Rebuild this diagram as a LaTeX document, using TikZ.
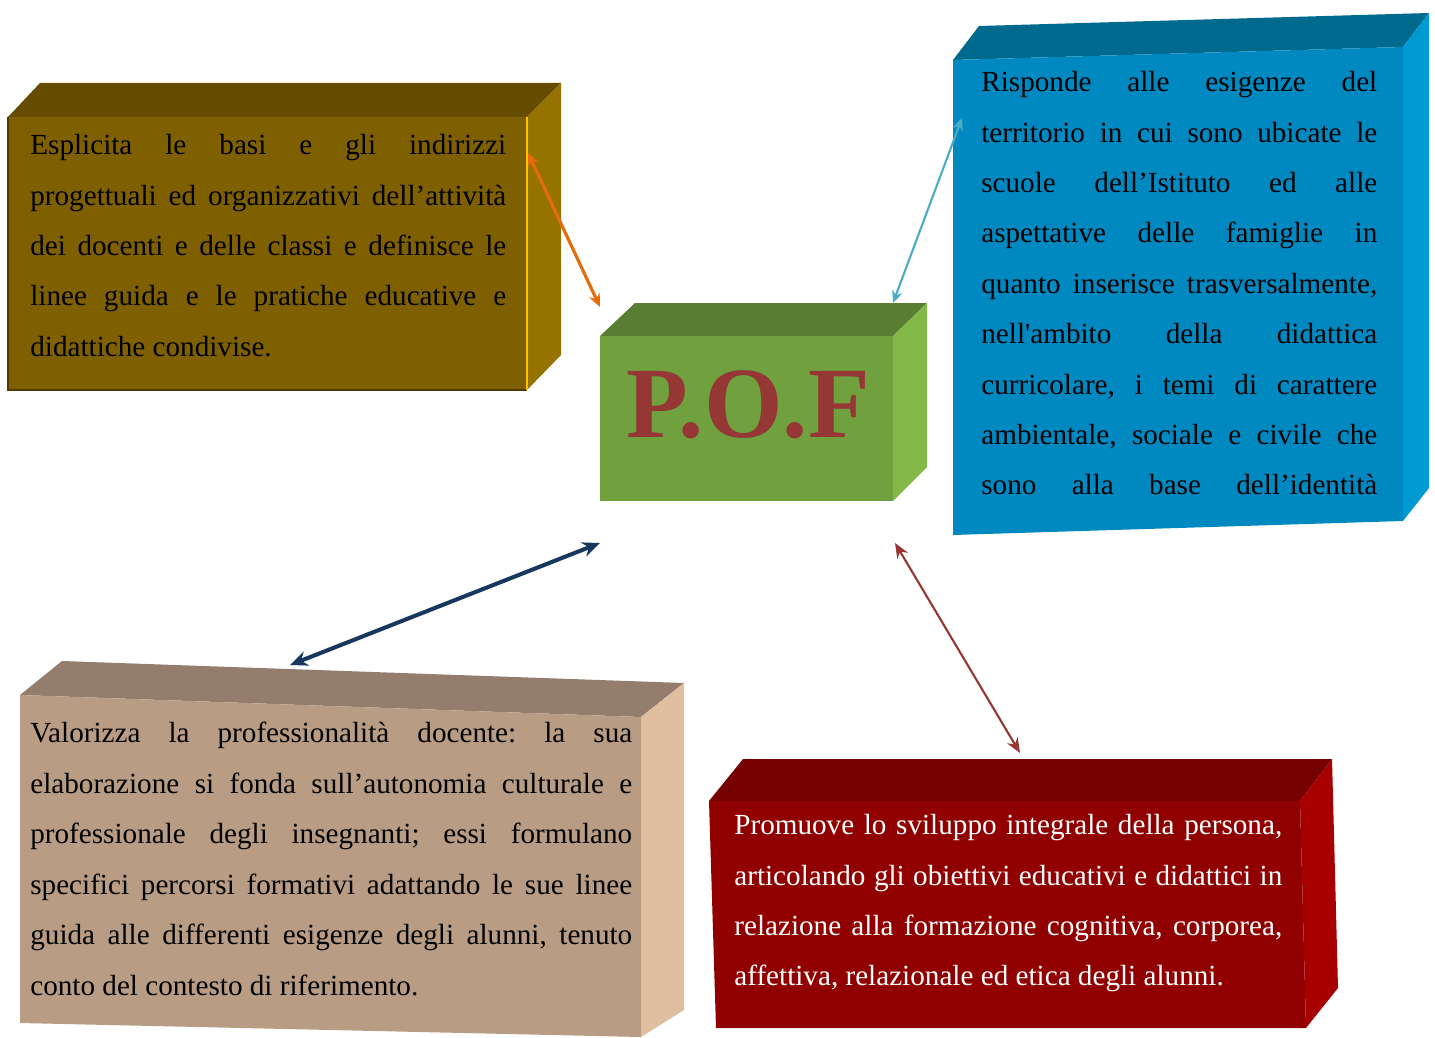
\documentclass[tikz,border=0pt]{standalone}
\usepackage{fontspec}
\setmainfont{Liberation Serif}
\usetikzlibrary{arrows.meta}
\definecolor{oliveFront}{HTML}{7F6000}
\definecolor{oliveTop}{HTML}{654C00}
\definecolor{oliveSide}{HTML}{967200}
\definecolor{oliveDark}{HTML}{4F3B00}
\definecolor{oliveEdge}{HTML}{FFC000}
\definecolor{greenFront}{HTML}{71A03F}
\definecolor{greenTop}{HTML}{5A7E31}
\definecolor{greenSide}{HTML}{81B848}
\definecolor{blueFront}{HTML}{0089C1}
\definecolor{blueTop}{HTML}{006A8E}
\definecolor{blueSide}{HTML}{009AD3}
\definecolor{tanFront}{HTML}{B89C83}
\definecolor{tanTop}{HTML}{947D6C}
\definecolor{tanSide}{HTML}{E0BEA0}
\definecolor{redFront}{HTML}{900000}
\definecolor{redTop}{HTML}{760000}
\definecolor{redSide}{HTML}{A80000}
\definecolor{pofRed}{HTML}{953735}
\definecolor{arrOrange}{HTML}{E46C0A}
\definecolor{arrBlue}{HTML}{4BACC6}
\definecolor{arrNavy}{HTML}{17375E}
\definecolor{arrRed}{HTML}{953735}
\newcommand{\boxfont}{\fontsize{16.6}{28.7}\selectfont\frenchspacing}

\begin{document}
\begin{tikzpicture}[x=0.02cm,y=-0.02cm]
    \useasboundingbox (0,0) rectangle (1435,1037);

    % olive box
    \fill[oliveTop] (8,117) -- (40,83) -- (561,83) -- (527,117) -- cycle;
    \fill[oliveSide] (527,117) -- (561,83) -- (561,355) -- (527,390) -- cycle;
    \fill[oliveFront] (8,117) rectangle (527,390);
    \draw[oliveDark, line width=0.8pt] (8,117) -- (8,390) -- (527,390);
    \draw[oliveEdge, line width=1.1pt] (527,117) -- (527,390);

    % green box
    \fill[greenTop] (600,336) -- (635,303) -- (927,303) -- (893,336) -- cycle;
    \fill[greenSide] (893,336) -- (927,303) -- (927,467) -- (893,501) -- cycle;
    \fill[greenFront] (600,336) rectangle (893,501);

    % blue box
    \fill[blueTop] (953,60) -- (979,26) -- (1429,13) -- (1403,47) -- cycle;
    \fill[blueSide] (1403,47) -- (1429,13) -- (1429,488) -- (1403,521) -- cycle;
    \fill[blueFront] (953,60) -- (1403,47) -- (1403,521) -- (953,535) -- cycle;

    % tan box
    \fill[tanTop] (20,695) -- (62,661) -- (684,683) -- (641,717) -- cycle;
    \fill[tanSide] (641,717) -- (684,683) -- (684,1010) -- (641,1037) -- cycle;
    \fill[tanFront] (20,695) -- (641,717) -- (641,1037) -- (20,1023) -- cycle;

    % red box
    \fill[redTop] (709,801) -- (743,759) -- (1332,759) -- (1300,801) -- cycle;
    \fill[redSide] (1300,801) -- (1332,759) -- (1338,988) -- (1306,1028) -- cycle;
    \fill[redFront] (709,801) -- (1300,801) -- (1306,1028) -- (716,1028) -- cycle;

    \node[font=\fontsize{57.5}{57.5}\selectfont\bfseries, text=pofRed] (pof) at (748,405) {P.O.F};

    \begin{scope}[every node/.style={anchor=north west, inner sep=0pt, align=justify, font=\boxfont}]
        \node[text width=9.52cm] (esplicita) at (30,134) {Esplicita le basi e gli indirizzi\linebreak
            progettuali ed organizzativi dell’attività\linebreak
            dei docenti e delle classi e definisce le\linebreak
            linee guida e le pratiche educative e\linebreak
            didattiche condivise.};
        \node[text width=7.92cm] (risponde) at (981,71) {Risponde alle esigenze del\linebreak
            territorio in cui sono ubicate le\linebreak
            scuole dell’Istituto ed alle\linebreak
            aspettative delle famiglie in\linebreak
            quanto inserisce trasversalmente,\linebreak
            nell\textquotesingle ambito della didattica\linebreak
            curricolare, i temi di carattere\linebreak
            ambientale, sociale e civile che\linebreak
            \makebox[\linewidth][s]{sono alla base dell’identità}};
        \node[text width=12.04cm] (valorizza) at (30,722) {Valorizza la professionalità docente: la sua\linebreak
            elaborazione si fonda sull’autonomia culturale e\linebreak
            professionale degli insegnanti; essi formulano\linebreak
            specifici percorsi formativi adattando le sue linee\linebreak
            guida alle differenti esigenze degli alunni, tenuto\linebreak
            conto del contesto di riferimento.};
        \node[text width=10.96cm, text=white] (promuove) at (734,814) {Promuove lo sviluppo integrale della persona,\linebreak
            articolando gli obiettivi educativi e didattici in\linebreak
            relazione alla formazione cognitiva, corporea,\linebreak
            affettiva, relazionale ed etica degli alunni.};
    \end{scope}

    \coordinate (esplicitaEnd) at (528,153);
    \coordinate (pofNW) at (600,307);
    \coordinate (rispondeEnd) at (962,118);
    \coordinate (pofNE) at (893,303);
    \coordinate (pofSW) at (600,543);
    \coordinate (valorizzaEnd) at (290,665);
    \coordinate (pofSE) at (895,543);
    \coordinate (promuoveEnd) at (1020,753);

    \begin{scope}[every edge/.style={draw}]
        \path [{Stealth[length=7.5pt,width=6.5pt]}-{Stealth[length=7.5pt,width=6.5pt]}] (esplicitaEnd) edge[arrOrange, line width=1.8pt] (pofNW);
        \path [{Stealth[length=7pt,width=6pt]}-{Stealth[length=7pt,width=6pt]}] (rispondeEnd) edge[arrBlue, line width=1.2pt] (pofNE);
        \path [{Stealth[length=10pt,width=8.5pt]}-{Stealth[length=10pt,width=8.5pt]}] (pofSW) edge[arrNavy, line width=2.3pt] (valorizzaEnd);
        \path [{Stealth[length=8.5pt,width=7pt]}-{Stealth[length=8.5pt,width=7pt]}] (pofSE) edge[arrRed, line width=1.2pt] (promuoveEnd);
    \end{scope}
\end{tikzpicture}
\end{document}
